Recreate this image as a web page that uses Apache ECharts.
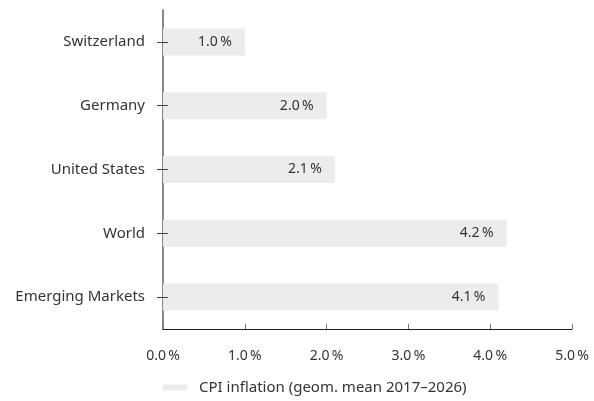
<!DOCTYPE html>
<html>
<head>
<meta charset="utf-8">
<style>
  html, body { margin: 0; padding: 0; background: #fff; }
  #chart { width: 594px; height: 401px; }
</style>
<script src="https://cdn.jsdelivr.net/npm/echarts@6/dist/echarts.min.js"></script>
</head>
<body>
<div id="chart"></div>
<script>
// Average consumer price inflation by region
const categories = ['Switzerland', 'Germany', 'United States', 'World', 'Emerging Markets'];
const inflation = [1.0, 2.0, 2.1, 4.2, 4.1];
const seriesName = 'CPI inflation (geom. mean 2017–2026)';
const xTicks = [0, 1, 2, 3, 4, 5];

const FONT = '"Noto Sans", sans-serif';
const TEXT = '#333333';
const BAR = '#ececec';
const FS = 15;

const fmtPct = v => v.toFixed(1) + '\u2009%';

const chart = echarts.init(document.getElementById('chart'), null, { renderer: 'canvas' });

chart.setOption({
  animation: false,
  textStyle: { fontFamily: FONT },
  grid: { left: 163, right: 22, top: 10, bottom: 72, containLabel: false },
  legend: {
    bottom: 1,
    left: 158,
    itemWidth: 24,
    itemHeight: 6,
    itemGap: 12,
    icon: 'rect',
    textStyle: { fontFamily: FONT, fontSize: FS, color: TEXT, padding: [0, 0, 0, 7] },
    data: [seriesName]
  },
  xAxis: {
    type: 'value',
    min: xTicks[0],
    max: xTicks[xTicks.length - 1],
    interval: 1,
    splitLine: { show: false },
    axisLine: { show: true, lineStyle: { color: '#222', width: 1 } },
    axisTick: { show: true, inside: true, length: 5, lineStyle: { color: '#777' } },
    axisLabel: {
      color: TEXT, fontSize: FS - 1, fontFamily: FONT, margin: 20,
      formatter: v => fmtPct(v)
    }
  },
  yAxis: [
    {
      // axis line and category labels
      type: 'category',
      data: categories,
      inverse: true,
      axisLine: { show: true, lineStyle: { color: '#888', width: 2 } },
      axisTick: { show: false },
      axisLabel: { color: TEXT, fontSize: FS, fontFamily: FONT, margin: 18 }
    },
    {
      // cross-shaped category ticks straddling the axis line, drawn above the bars
      type: 'category',
      data: categories,
      inverse: true,
      position: 'left',
      offset: -5,
      z: 5,
      axisLine: { show: false },
      axisTick: { show: true, alignWithLabel: true, length: 11, lineStyle: { color: '#444' } },
      axisLabel: { show: false }
    }
  ],
  series: [{
    name: seriesName,
    type: 'bar',
    yAxisIndex: 0,
    data: inflation,
    barWidth: 27,
    itemStyle: { color: BAR },
    label: {
      show: true,
      position: 'insideRight',
      distance: 13,
      color: TEXT,
      fontSize: FS - 1,
      fontFamily: FONT,
      formatter: p => fmtPct(p.value)
    }
  }]
});
</script>
</body>
</html>
